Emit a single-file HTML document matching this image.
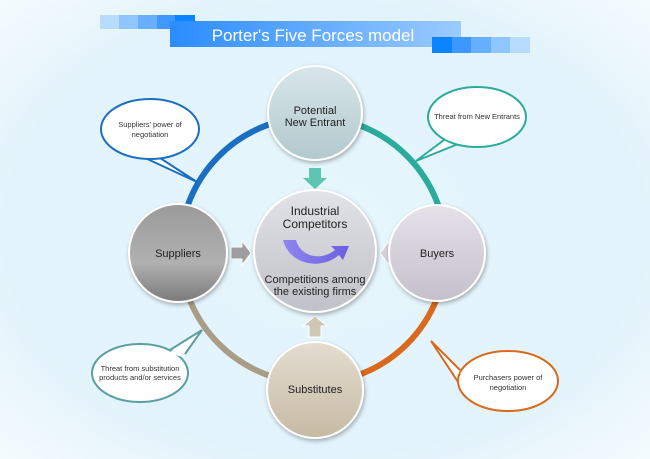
<!DOCTYPE html>
<html><head><meta charset="utf-8"><style>
html,body{margin:0;padding:0;width:650px;height:459px;overflow:hidden}
text{font-family:"Liberation Sans",sans-serif}
</style></head><body>
<svg width="650" height="459" viewBox="0 0 650 459" xmlns="http://www.w3.org/2000/svg">
<defs>
<radialGradient id="bg" cx="0.5" cy="0.5" r="0.7">
<stop offset="0" stop-color="#e6f6fd"/><stop offset="0.7" stop-color="#e2f3fb"/><stop offset="1" stop-color="#f4fbfe"/></radialGradient>
<linearGradient id="bar" x1="0" x2="1"><stop offset="0" stop-color="#2a8cff"/><stop offset="1" stop-color="#9ccbff"/></linearGradient>
<linearGradient id="gTop" x1="0" y1="0" x2="0" y2="1"><stop offset="0" stop-color="#d8e6ea"/><stop offset="1" stop-color="#b2c9cd"/></linearGradient>
<linearGradient id="gLeft" x1="0" y1="0" x2="0" y2="1"><stop offset="0" stop-color="#9a9a9a"/><stop offset="0.6" stop-color="#b0b0b0"/><stop offset="1" stop-color="#7a7a7a"/></linearGradient>
<linearGradient id="gRight" x1="0" y1="0" x2="0" y2="1"><stop offset="0" stop-color="#e6e2ea"/><stop offset="1" stop-color="#c4c0cc"/></linearGradient>
<linearGradient id="gBot" x1="0" y1="0" x2="0" y2="1"><stop offset="0" stop-color="#e4ddd0"/><stop offset="1" stop-color="#c6baa4"/></linearGradient>
<linearGradient id="gCen" x1="0" y1="0" x2="0" y2="1"><stop offset="0" stop-color="#e2e3e8"/><stop offset="1" stop-color="#c0c1c8"/></linearGradient>
<linearGradient id="gPur" x1="0" y1="0" x2="1" y2="0"><stop offset="0" stop-color="#8f86f0"/><stop offset="1" stop-color="#6b5ee0"/></linearGradient>
<filter id="sh" x="-20%" y="-20%" width="140%" height="140%"><feDropShadow dx="1" dy="2" stdDeviation="2" flood-opacity="0.3"/></filter>
</defs>
<rect width="650" height="459" fill="url(#bg)"/>
<rect x="100" y="15" width="19" height="14" fill="#b8dcff"/>
<rect x="119" y="15" width="19" height="14" fill="#90c6ff"/>
<rect x="138" y="15" width="19" height="14" fill="#68b0ff"/>
<rect x="157" y="15" width="19" height="14" fill="#4098ff"/>
<rect x="175" y="15" width="20" height="14" fill="#0a84ff"/>
<rect x="170" y="21" width="291" height="26" fill="url(#bar)"/>
<rect x="432" y="37" width="20" height="16" fill="#0a84ff"/>
<rect x="452" y="37" width="19" height="16" fill="#3c98ff"/>
<rect x="471" y="37" width="20" height="16" fill="#66aefe"/>
<rect x="491" y="37" width="19" height="16" fill="#90c6ff"/>
<rect x="510" y="37" width="20" height="16" fill="#b8dcff"/>
<text x="313" y="41" font-size="17" fill="#fff" text-anchor="middle">Porter's Five Forces model</text>
<g fill="none" stroke-width="6">
<path d="M180,250 A133,133 0 0 1 313,117" stroke="#1b6fc2"/>
<path d="M313,117 A133,133 0 0 1 446,250" stroke="#2bab9c"/>
<path d="M446,250 A133,133 0 0 1 313,383" stroke="#d8691d"/>
<path d="M313,383 A133,133 0 0 1 180,250" stroke="#a99d88"/>
</g>
<g stroke-width="2" fill="#fff">
<path d="M143,157 L197,182 L160,158" stroke="#1b6fc2"/>
<ellipse cx="150" cy="129" rx="49" ry="30" stroke="#1b6fc2"/>
<path d="M143,155 L160,156" stroke="#fff" stroke-width="3"/>
<path d="M444,140 L416,161 L458,144" stroke="#2bab9c"/>
<ellipse cx="477" cy="117" rx="49" ry="30" stroke="#2bab9c"/>
<path d="M446,138 L458,142" stroke="#fff" stroke-width="3"/>
<path d="M170,350 L202,330 L185,354" stroke="#5aa0a0"/>
<ellipse cx="140" cy="373" rx="48" ry="29" stroke="#5aa0a0"/>
<path d="M171,352 L184,356" stroke="#fff" stroke-width="3"/>
<path d="M460,370 L431,341 L466,394" stroke="#d8691d"/>
<ellipse cx="508" cy="381" rx="50" ry="30" stroke="#d8691d"/>
<path d="M462,372 L467,391" stroke="#fff" stroke-width="3"/>
</g>
<g font-size="7.5" fill="#333" text-anchor="middle">
<text x="150" y="127">Suppliers' power of</text><text x="150" y="137">negotiation</text>
<text x="477" y="119">Threat from New Entrants</text>
<text x="140" y="371">Threat from substitution</text><text x="140" y="380">products and/or services</text>
<text x="508" y="380">Purchasers power of</text><text x="508" y="390">negotiation</text>
</g>
<path d="M309,168 H321 V178 H327 L315,189 L303,178 H309 Z" fill="#5ec4b4"/>
<path d="M231,247 H242 V241 L251,253 L242,265 V259 H231 Z" fill="#9e9e9e" stroke="#fff" stroke-width="1"/>
<path d="M400,247 H389 V241 L380,253 L389,265 V259 H400 Z" fill="#d6d2dc" stroke="#fff" stroke-width="1"/>
<path d="M309,337 V326 H303 L315,316 L327,326 H321 V337 Z" fill="#cfc6b4" stroke="#fff" stroke-width="1"/>
<g stroke="#fff" stroke-width="2" filter="url(#sh)">
<circle cx="315" cy="113" r="47" fill="url(#gTop)"/>
<circle cx="178" cy="253" r="49" fill="url(#gLeft)"/>
<circle cx="437" cy="253" r="48" fill="url(#gRight)"/>
<circle cx="315" cy="390" r="48" fill="url(#gBot)"/>
<circle cx="315" cy="251" r="61" fill="url(#gCen)"/>
</g>
<path d="M283,240 L296,240 C300,256 320,262 335,250 L331,246 L349,246 L343,260 L339,255 C322,270 290,266 283,240 Z" fill="url(#gPur)"/>
<g font-size="11" fill="#222" text-anchor="middle">
<text x="315" y="114">Potential</text><text x="315" y="126">New Entrant</text>
<text x="178" y="257">Suppliers</text>
<text x="437" y="257">Buyers</text>
<text x="315" y="393">Substitutes</text>
<text x="315" y="215" font-size="12">Industrial</text><text x="315" y="228" font-size="12">Competitors</text>
<text x="315" y="283">Competitions among</text><text x="315" y="295">the existing firms</text>
</g>
</svg>
</body></html>
